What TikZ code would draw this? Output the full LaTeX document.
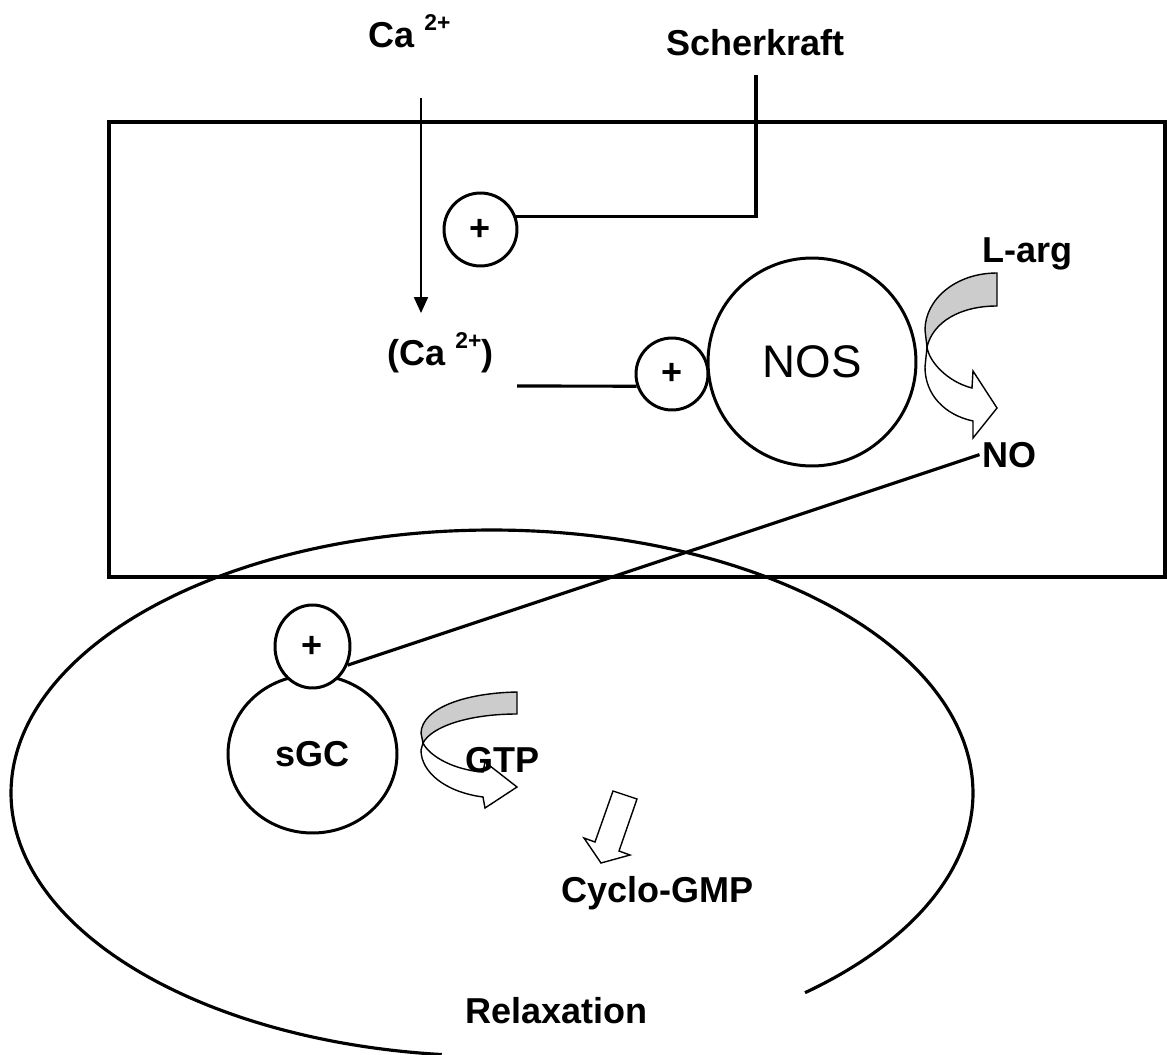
\documentclass[tikz,border=0pt]{standalone}
\usepackage{fontspec}
\setmainfont{Liberation Sans}
\usetikzlibrary{arrows.meta,shapes.geometric}
\definecolor{ribbon}{RGB}{204,204,204}
\newcommand\supx[1]{\raisebox{9.5pt}{\fontsize{13}{15}\selectfont #1}}
\begin{document}
\begin{tikzpicture}[x=0.02cm,y=-0.02cm,
  lbl/.style={font=\bfseries\fontsize{20.5}{24}\selectfont, inner sep=0pt, anchor=base west},
  heavy/.style={line width=1.8pt},
  ring/.style={draw, circle, line width=1.7pt, fill=white, inner sep=0pt, font=\bfseries\fontsize{20.5}{24}\selectfont},
  oring/.style={draw, ellipse, line width=1.7pt, fill=white, inner sep=0pt, font=\bfseries\fontsize{20.5}{24}\selectfont},
  ribbonline/.style={line width=0.8pt, line join=miter},
  thinarrow/.style={line width=0.8pt, -{Triangle[width=8pt,length=9pt]}}
]
\useasboundingbox (0,0) rectangle (1167,1055);

% cell and smooth muscle cell
\draw[heavy] (109,122) rectangle (1165,577);
\draw[heavy] plot[domain=96:409.4, samples=240, smooth] ({492+481*cos(\x)},{793+263*sin(\x)});

% circles
\node[ring, minimum size=1.46cm] (plusA) at (480.5,229.5) {+};
\node[draw, circle, line width=1.7pt, fill=white, minimum size=4.16cm, inner sep=0pt, font=\fontsize{26}{30}\selectfont] (nos) at (812,362) {NOS};
\node[ring, minimum size=1.44cm] (plusB) at (672,374) {+};
\node[oring, minimum width=3.38cm, minimum height=3.16cm] (sgc) at (312.5,754) {sGC};
\node[oring, minimum width=1.5cm, minimum height=1.66cm] (plusC) at (312.5,646.5) {+};

% free ends
\coordinate (catop) at (421,98);
\coordinate (caend) at (421,313);
\coordinate (schtop) at (756,75);
\coordinate (calow) at (517,386);

% L-arg -> NO ribbon arrow
\filldraw[ribbonline, fill=ribbon] (997,273) .. controls (955,273) and (925,300) .. (925,330) -- (927,347) .. controls (933,322) and (960,306) .. (997,306) -- cycle;
\filldraw[ribbonline, fill=white] (927,347) .. controls (929,362) and (948,382) .. (972,388) -- (973,371) -- (997,408) -- (973,438) -- (973,421) .. controls (945,415) and (925,395) .. (925,367) -- cycle;

% GTP ribbon arrow
\filldraw[ribbonline, fill=ribbon] (517,692) .. controls (465,693) and (422,708) .. (421,733) -- (423,743) .. controls (432,726) and (470,714) .. (517,714) -- cycle;
\filldraw[ribbonline, fill=white] (423,743) .. controls (430,757) and (455,770) .. (483,772) -- (485,762) -- (517,787) -- (485,808) -- (483,797) .. controls (445,792) and (421,772) .. (421,750) -- cycle;

% block arrow to Cyclo-GMP
\filldraw[ribbonline, fill=white] (613,791) -- (637,799) -- (619,851) -- (630,855) -- (601,863) -- (584,838) -- (595,842) -- cycle;

% labels
\node[lbl] (ca) at (368,47) {Ca \supx{2+}};
\node[lbl] (scher) at (666,55) {Scherkraft};
\node[lbl] (cain) at (387,365) {(Ca \supx{2+})};
\node[lbl] (larg) at (982,262) {L-arg};
\node[lbl] (no) at (982,467) {NO};
\node[lbl] (gtp) at (465,772) {GTP};
\node[lbl] (cgmp) at (561,902) {Cyclo-GMP};
\node[lbl] (relax) at (465,1023) {Relaxation};

% connectors
\draw[thinarrow] (catop) -- (caend);
\draw[heavy] (schtop) |- (plusA.20);
\draw[heavy] (calow) -- (plusB.199.5);
\draw[heavy] ([xshift=-0.05cm]no.west) -- (plusC.-28);
\end{tikzpicture}
\end{document}
